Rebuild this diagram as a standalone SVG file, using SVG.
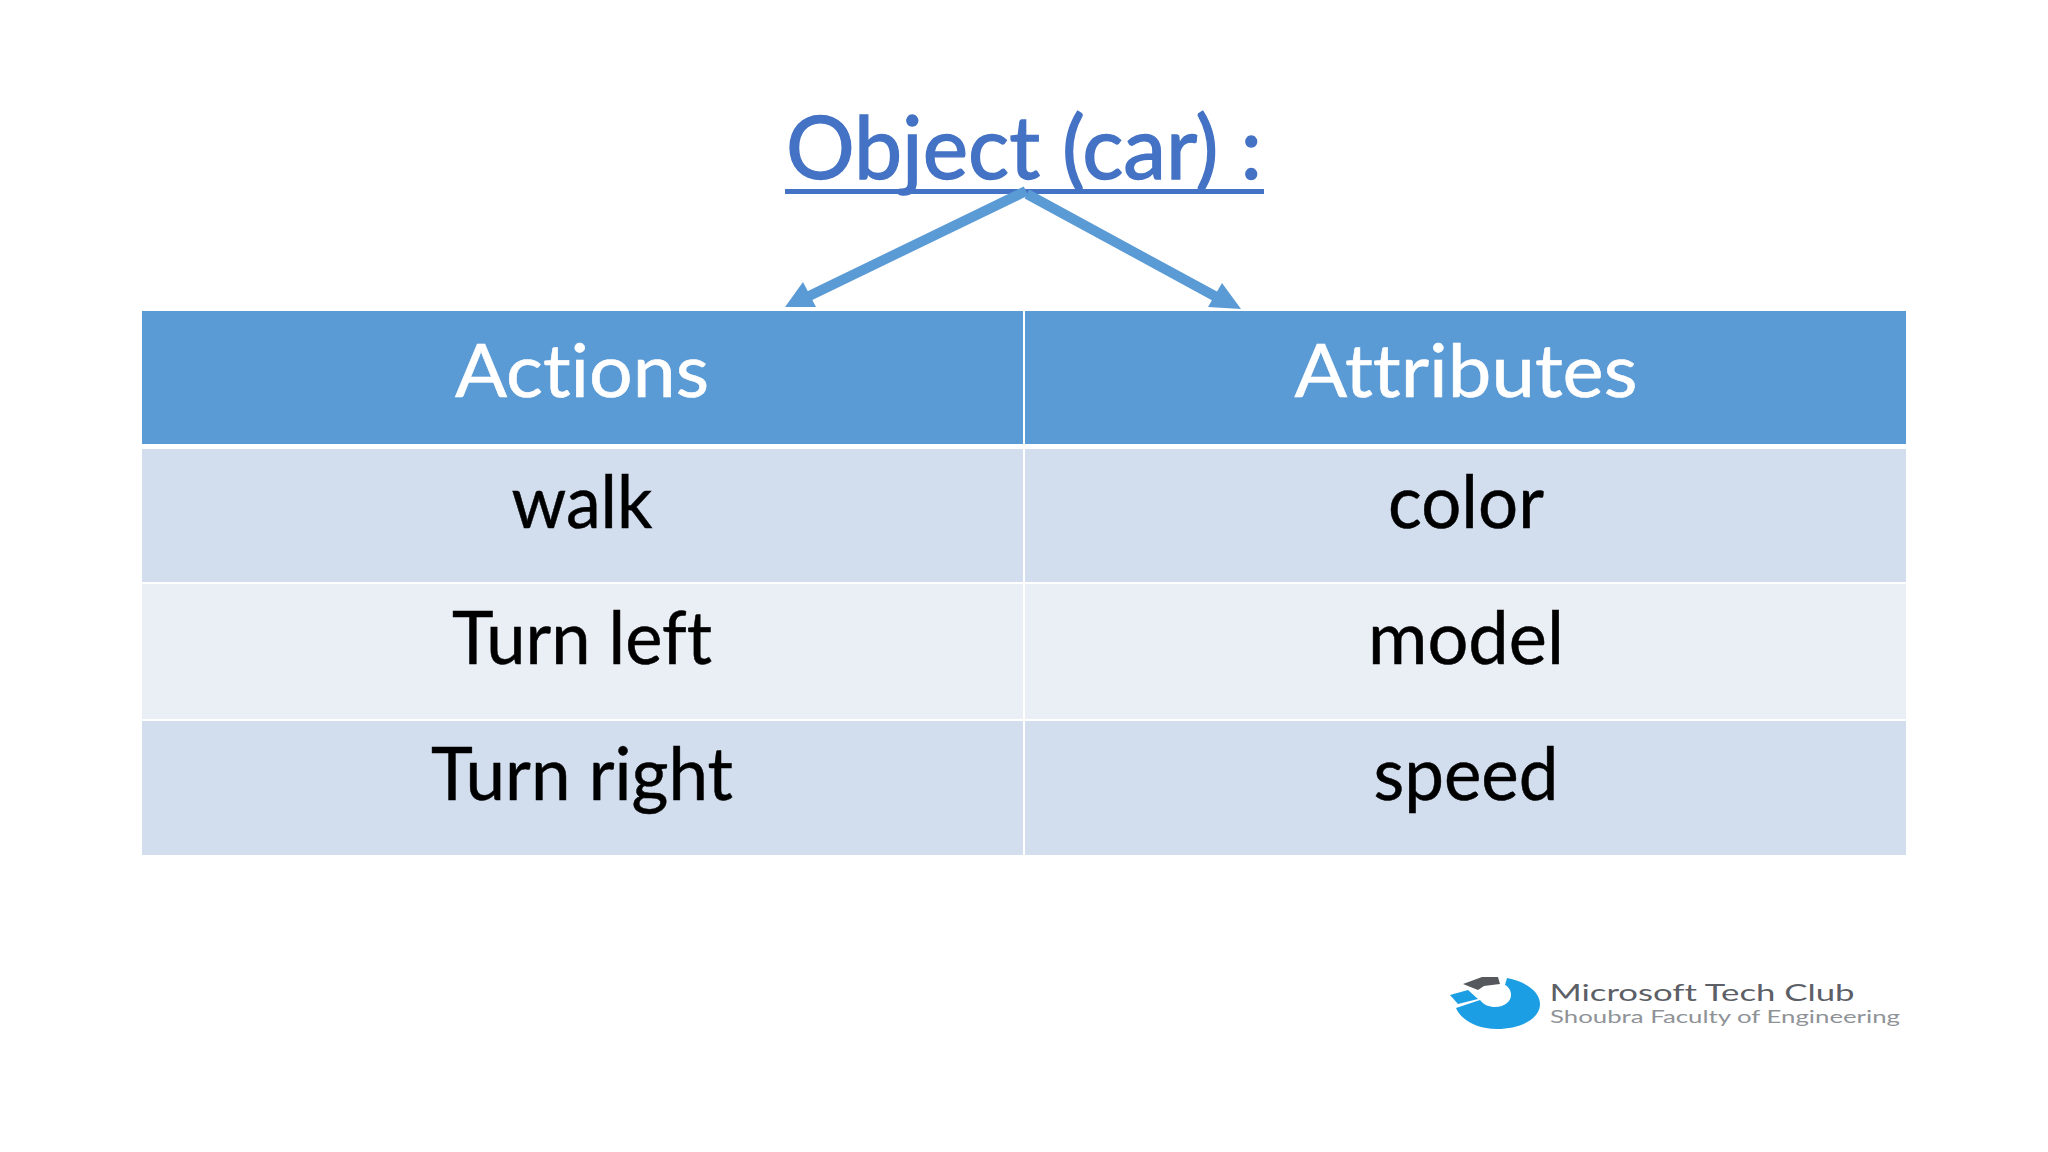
<svg xmlns="http://www.w3.org/2000/svg" width="2048" height="1152" viewBox="0 0 2048 1152">
<style>
text{font-family:"Lato","Open Sans",sans-serif;text-anchor:middle;font-variant-ligatures:none}
.h{font-size:74px;fill:#fff;stroke:#fff;stroke-width:.6}
.c{font-size:74px;fill:#000;stroke:#000;stroke-width:.5}
.a{stroke:#5b9bd5;stroke-width:10;fill:none}
.ah{fill:#5b9bd5}
.d{fill:#d2deee}
.l{fill:#eaeff6}
.hd{fill:#5b9bd5}
</style>
<rect width="2048" height="1152" fill="#fff"/>
<g id="title"><text x="1024" y="179" font-size="88" fill="#4472c4" stroke="#4472c4" stroke-width="1.4" textLength="476" lengthAdjust="spacingAndGlyphs">Object (car) :</text><rect x="785" y="189" width="479" height="5" fill="#4472c4"/></g>
<g id="table">
<rect class="hd" x="142" y="311" width="881" height="133"/><rect class="hd" x="1025" y="311" width="881" height="133"/>
<rect class="d" x="142" y="449" width="881" height="133"/><rect class="d" x="1025" y="449" width="881" height="133"/>
<rect class="l" x="142" y="584" width="881" height="135"/><rect class="l" x="1025" y="584" width="881" height="135"/>
<rect class="d" x="142" y="721" width="881" height="134"/><rect class="d" x="1025" y="721" width="881" height="134"/>
</g>
<g id="cell-actions"><text class="h" x="582" y="397" textLength="254" lengthAdjust="spacingAndGlyphs">Actions</text></g>
<g id="cell-attributes"><text class="h" x="1466" y="397" textLength="343" lengthAdjust="spacingAndGlyphs">Attributes</text></g>
<g id="cell-walk"><text class="c" x="582" y="528" textLength="141" lengthAdjust="spacingAndGlyphs">walk</text></g>
<g id="cell-color"><text class="c" x="1466" y="528" textLength="156" lengthAdjust="spacingAndGlyphs">color</text></g>
<g id="cell-left"><text class="c" x="582" y="664" textLength="260" lengthAdjust="spacingAndGlyphs">Turn left</text></g>
<g id="cell-model"><text class="c" x="1466" y="664" textLength="196" lengthAdjust="spacingAndGlyphs">model</text></g>
<g id="cell-right"><text class="c" x="582" y="800" textLength="302" lengthAdjust="spacingAndGlyphs">Turn right</text></g>
<g id="cell-speed"><text class="c" x="1466" y="800" textLength="185" lengthAdjust="spacingAndGlyphs">speed</text></g>
<g id="connectors">
<line class="a" x1="1026" y1="191" x2="805" y2="298"/><polygon class="ah" points="785,307 803,282 816,307"/>
<line class="a" x1="1027" y1="194" x2="1222" y2="300"/><polygon class="ah" points="1241,309 1208,307 1222,283"/>
</g>
<g id="logo">
<path d="M1507 978C1527 982 1540 992 1540 1004C1540 1019 1520 1029 1497 1029C1477 1029 1461 1020 1456 1008L1480 1000C1484 1005 1489 1007 1495 1007C1505 1007 1511 1001 1511 995C1511 991 1509 987 1505 985Z" fill="#1c9ee4"/>
<path d="M1450 995L1468 990L1478 999L1458 1004Z" fill="#1c9ee4"/>
<path d="M1463 984L1482 977L1498 977L1500 984L1484 986L1478 990Z" fill="#55585c"/>
<text x="1702" y="1001" font-size="24" fill="#5c6066" textLength="305" lengthAdjust="spacingAndGlyphs">Microsoft Tech Club</text>
<text x="1725" y="1023" font-size="18" fill="#8f9397" textLength="350" lengthAdjust="spacingAndGlyphs">Shoubra Faculty of Engineering</text>
</g>
</svg>
